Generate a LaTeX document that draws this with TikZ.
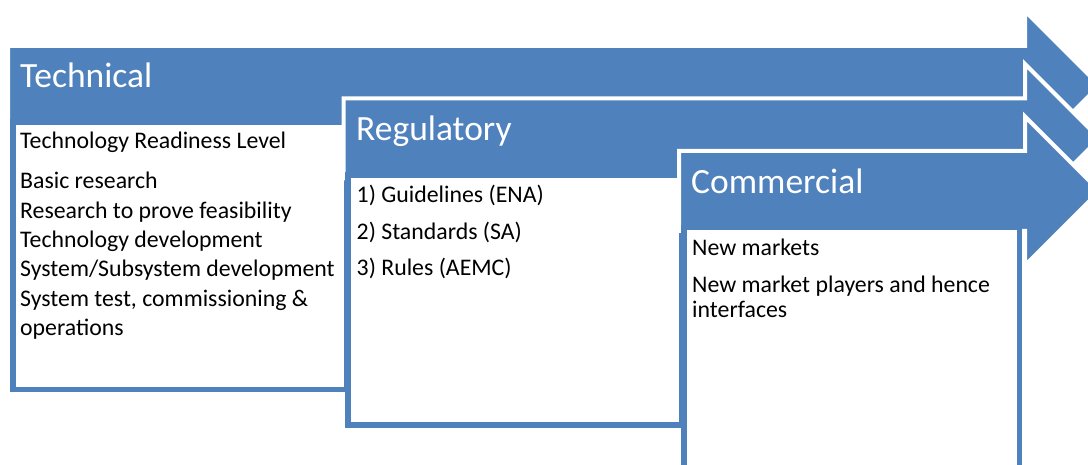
\documentclass[tikz,border=0pt]{standalone}
\usepackage{fontspec}
\setmainfont{Carlito}
\definecolor{accent}{HTML}{4F81BD}
\tikzset{
  arrowshape/.style={fill=accent, draw=white, line width=4pt, line join=miter},
  textbox/.style={fill=white, draw=accent, line width=5.5pt},
  header/.style={anchor=base west, inner sep=0pt, text=white, font=\fontsize{35.5}{40}\selectfont},
  bodytext/.style={anchor=base west, inner sep=0pt, text=black, font=\fontsize{23.8}{28}\selectfont},
}
\begin{document}
\begin{tikzpicture}[x=1pt,y=-1pt]
\useasboundingbox (0,0) rectangle (1088,465);
\clip (0,0) rectangle (1088,465);
% Arrow 1 Technical
\draw[arrowshape] (8,46) -- (1025,46) -- (1025,11) -- (1099.5,85.5) -- (1025,160) -- (1025,125) -- (8,125) -- cycle;
\draw[textbox] (12.75,122) rectangle (347,389.5);
% Arrow 2 Regulatory
\draw[arrowshape] (343.5,98.5) -- (1025,98.5) -- (1025,64) -- (1099.5,138.5) -- (1025,213) -- (1025,178.5) -- (343.5,178.5) -- cycle;
\draw[textbox] (348,175) rectangle (681.5,425);
% Arrow 3 Commercial
\draw[arrowshape] (679,151) -- (1025,151) -- (1025,116.5) -- (1099.5,191) -- (1025,265.5) -- (1025,231) -- (679,231) -- cycle;
\draw[textbox] (684,227.5) rectangle (1019.5,490);
% Headers
\node[header] (hTech) at (20,88) {Technical};
\node[header] (hReg) at (356,140.5) {Regulatory};
\node[header] (hCom) at (691,194) {Commercial};
% Technical text
\node[bodytext] (t1) at (20,149) {Technology Readiness Level};
\node[bodytext] (t2) at (20,189) {Basic research};
\node[bodytext] (t3) at (20,219) {Research to prove feasibility};
\node[bodytext] (t4) at (20,248) {Technology development};
\node[bodytext] (t5) at (20,277) {System/Subsystem development};
\node[bodytext] (t6) at (20,306.5) {System test, commissioning \&};
\node[bodytext] (t7) at (20,335.5) {operations};
% Regulatory text
\node[bodytext] (r1) at (356.5,203) {1) Guidelines (ENA)};
\node[bodytext] (r2) at (356.5,240) {2) Standards (SA)};
\node[bodytext] (r3) at (356.5,275.5) {3) Rules (AEMC)};
% Commercial text
\node[bodytext] (c1) at (692,256) {New markets};
\node[bodytext] (c2) at (692,293) {New market players and hence};
\node[bodytext] (c3) at (692,318) {interfaces};
\end{tikzpicture}
\end{document}
